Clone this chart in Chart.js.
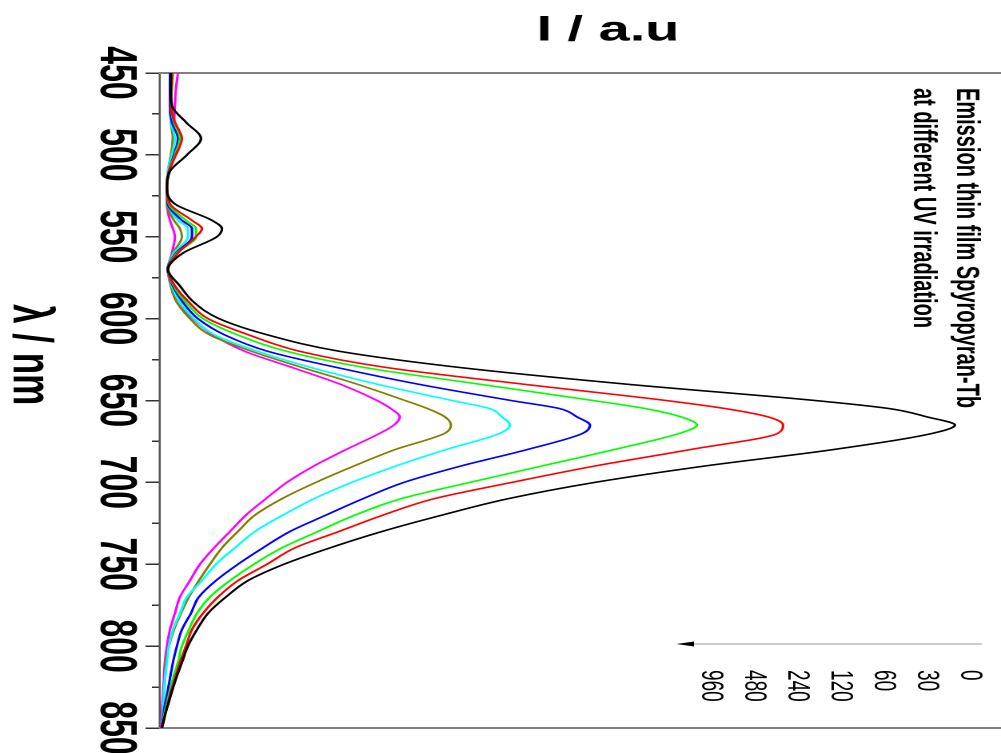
<!DOCTYPE html>
<html>
<head>
  <title>Emission thin film Spyropyran-Tb</title>
  <script src="https://cdn.jsdelivr.net/npm/chart.js"></script>
  <style>
    body { margin: 0; width: 1001px; height: 753px; overflow: hidden; background: #fff; }
    #wrap { position: absolute; left: 0; top: 0; width: 753px; height: 626px;
            transform-origin: 0 0; transform: translate(1001px, 0) scaleX(1.599) rotate(90deg); }
  </style>
</head>
<body>
  <div id="wrap"><canvas id="spectra" width="753" height="626"></canvas></div>
  <script>
    // wavelength (nm) and emission intensity (a.u.) per UV irradiation time
    const wavelengths = [450,460,470,480,490,500,510,520,530,540,545,550,560,570,580,590,600,610,620,630,640,650,655,660,665,670,680,690,700,710,720,730,740,750,760,770,780,790,800,810,820,830,840,850];
    const times = ['0', '30', '60', '120', '240', '480', '960'];
    const colors = ['#000000', '#ff0000', '#00ff00', '#0000ff', '#00ffff', '#808000', '#ff00ff'];

    const t0   = [11,11,12,26,41,27,10,7,15,52,62,57,23,8,20,34,59,108,180,302,466,655,730,767,795,773,673,545,435,348,282,222,170,124,88,66,48,37,28,22,16,11,6,2];
    const t30  = [12,11,11,15,22,16,9,7,10,32,42,36,18,8,15,29,48,89,140,228,363,506,566,608,623,618,530,435,352,274,223,179,135,107,78,58,43,32,26,20,15,10,6,2];
    const t60  = [11,11,11,14,20,15,9,7,9,26,36,36,17,8,14,26,43,78,127,206,319,433,486,521,537,520,454,382,310,241,195,158,122,94,70,50,37,29,22,18,13,9,5,2];
    const t120 = [10,10,10,12,18,14,9,7,8,22,32,32,16,8,13,23,38,65,108,178,258,351,400,417,430,423,367,301,244,203,166,130,103,78,56,39,31,22,17,13,10,7,4,2];
    const t240 = [10,10,10,11,15,12,8,7,8,18,28,28,14,8,12,20,34,55,98,152,217,292,330,342,350,340,286,236,192,154,123,95,75,56,42,27,20,13,9,7,5,4,3,2];
    const t480 = [13,12,11,11,13,11,8,7,7,14,20,22,13,8,11,17,30,50,92,143,197,245,268,285,291,285,235,194,156,122,95,78,62,50,39,29,21,14,9,6,5,4,3,2];
    const t960 = [18,16,15,14,13,12,9,7,7,10,13,15,12,8,11,17,33,53,85,133,180,217,231,240,234,220,186,154,127,106,86,70,54,40,30,20,15,10,7,5,4,3,2,1];
    const series = [t0, t30, t60, t120, t240, t480, t960];

    const xTitle = 'λ / nm';
    const yTitle = 'I / a.u';
    const noteLines = ['Emission thin film Spyropyran-Tb', 'at different UV irradiation'];

    const fam = "'Liberation Sans', Arial, sans-serif";
    Chart.defaults.font.family = fam;

    // titles, caption and the irradiation-time key
    const notes = {
      id: 'notes',
      afterDraw(chart) {
        const ctx = chart.ctx;
        const x = chart.scales.x, y = chart.scales.y;
        ctx.save();
        ctx.fillStyle = '#000';
        ctx.textBaseline = 'middle';

        ctx.font = 'bold 35px ' + fam;
        ctx.textAlign = 'center';
        ctx.fillText(xTitle, x.getPixelForValue(622), 608);

        ctx.save();
        ctx.translate(31, y.getPixelForValue(448));
        ctx.rotate(-Math.PI / 2);
        ctx.fillText(yTitle, 0, 0);
        ctx.restore();

        ctx.textAlign = 'left';
        ctx.font = 'bold 20px ' + fam;
        noteLines.forEach((t, i) => ctx.fillText(t, 88, 22 + i * 27));

        ctx.font = '19px ' + fam;
        times.forEach((t, i) => ctx.fillText(t, 670, 20 + i * 27));

        ctx.strokeStyle = '#9a9a9a';
        ctx.lineWidth = 1;
        ctx.beginPath();
        ctx.moveTo(644, 12);
        ctx.lineTo(644, 195);
        ctx.stroke();
        ctx.beginPath();
        ctx.moveTo(644, 203);
        ctx.lineTo(641.5, 192);
        ctx.lineTo(646.5, 192);
        ctx.closePath();
        ctx.fill();
        ctx.restore();
      }
    };

    new Chart(document.getElementById('spectra'), {
      type: 'line',
      data: {
        datasets: series.map((vals, i) => ({
          label: times[i],
          data: wavelengths.map((w, j) => ({ x: w, y: vals[j] })),
          borderColor: colors[i],
          borderWidth: 1.6,
          pointRadius: 0,
          fill: false,
          cubicInterpolationMode: 'monotone'
        }))
      },
      options: {
        responsive: false,
        animation: false,
        devicePixelRatio: 2,
        layout: { padding: 0 },
        plugins: { legend: { display: false }, tooltip: { enabled: false } },
        scales: {
          x: {
            type: 'linear', position: 'bottom', min: 450, max: 850, weight: 1,
            ticks: { stepSize: 50, color: '#000', padding: 0, maxRotation: 0, autoSkip: false,
                     font: { size: 32, weight: 'bold', lineHeight: 1.2 } },
            grid: { drawOnChartArea: false, tickLength: 9, color: '#333', lineWidth: 1.5 },
            border: { color: '#555', width: 1.3 },
            afterFit: s => { s.height = 100; s.paddingLeft = 0; s.paddingRight = 0; }
          },
          xMinor: {
            type: 'linear', position: 'bottom', min: 450, max: 850, weight: 0,
            ticks: { display: false, stepSize: 25 },
            grid: { drawOnChartArea: false, tickLength: 5, color: '#333', lineWidth: 1.5 },
            border: { display: false },
            afterFit: s => { s.height = 0; s.paddingLeft = 0; s.paddingRight = 0; }
          },
          y: {
            position: 'left', min: 0, max: 841,
            ticks: { display: false },
            grid: { display: false },
            border: { color: '#808080', width: 2 },
            afterFit: s => { s.width = 73; }
          },
          yRight: {
            position: 'right', min: 0, max: 841,
            ticks: { display: false },
            grid: { display: false },
            border: { color: '#808080', width: 2 },
            afterFit: s => { s.width = 25; }
          }
        }
      },
      plugins: [notes]
    });
  </script>
</body>
</html>
